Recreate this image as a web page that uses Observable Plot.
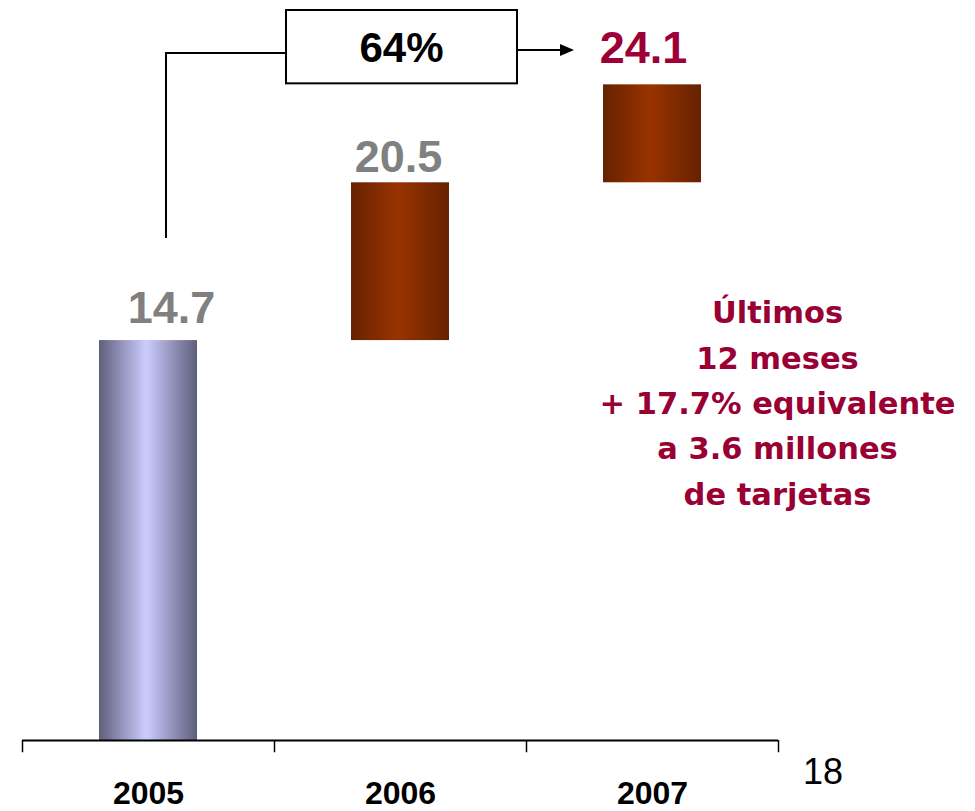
<!DOCTYPE html>
<html>
<head>
<meta charset="utf-8">
<script src="https://cdn.jsdelivr.net/npm/d3@7"></script>
<script src="https://cdn.jsdelivr.net/npm/@observablehq/plot@0.6"></script>
<style>
  html, body { margin: 0; padding: 0; background: #fff; }
  #chart svg { display: block; }
</style>
</head>
<body>
<div id="chart"></div>
<script>
// ---- data ----
const years = ["2005", "2006", "2007"];
const totals = [14.7, 20.5, 24.1];          // cumulative value at top of each bar
const starts = [0, 14.7, 20.5];             // bottom of each (waterfall) bar
const valueLabels = ["14.7", "20.5", "24.1"];
const growthLabel = "64%";
const noteLines = ["Últimos", "12 meses", "+ 17.7% equivalente", "a 3.6 millones", "de tarjetas"];
const pageNumber = "18";

const bars = years.map((y, i) => ({year: y, y1: starts[i], y2: totals[i], label: valueLabels[i]}));

const labelStyle = [
  {dx: 23, dy: -32, fill: "#808080"},
  {dx: -2, dy: -25, fill: "#808080"},
  {dx: -9, dy: -36, fill: "#9c0036"}
];

const plot = Plot.plot({
  width: 975,
  height: 811,
  marginLeft: 22,
  marginRight: 197,
  marginTop: 0,
  marginBottom: 71,
  style: {background: "#fff", overflow: "visible"},
  x: {domain: years, padding: 0, axis: null},
  y: {domain: [0, 27.2], axis: null},
  marks: [
    Plot.barY(bars.slice(0, 1), {x: "year", y1: "y1", y2: "y2", fill: "url(#gradLav)", insetLeft: 77, insetRight: 77}),
    Plot.barY(bars.slice(1), {x: "year", y1: "y1", y2: "y2", fill: "url(#gradBrown)", insetLeft: 77, insetRight: 77}),
    ...bars.map((b, i) => Plot.text([b], {
      x: "year", y: "y2", text: "label",
      dx: labelStyle[i].dx, dy: labelStyle[i].dy,
      fill: labelStyle[i].fill, fontSize: 45, fontWeight: "bold",
      fontFamily: "Liberation Sans, Arial, sans-serif", textAnchor: "middle", lineAnchor: "middle"
    })),
    Plot.ruleY([0], {stroke: "#000", strokeWidth: 2}),
    Plot.ruleX(years, {x: d => d, y1: 0, y2: -0.45, dx: -126, stroke: "#000", strokeWidth: 1.5}),
    Plot.ruleX(years.slice(-1), {x: d => d, y1: 0, y2: -0.45, dx: 126, stroke: "#000", strokeWidth: 1.5}),
    Plot.text(years, {x: d => d, y: 0, dy: 53, text: d => d, fontSize: 32, fontWeight: "bold",
      fontFamily: "Liberation Sans, Arial, sans-serif", fill: "#000", textAnchor: "middle", lineAnchor: "middle"}),
    Plot.text([noteLines.join("\n")], {frameAnchor: "right", dy: 29, dx: -1, text: d => d, textAnchor: "middle",
      fill: "#990033", fontSize: 30.5, fontWeight: "bold", lineHeight: 1.49,
      fontFamily: "DejaVu Sans, Verdana, sans-serif"})
  ]
});

const svg = d3.select(plot);
const defs = svg.insert("defs", ":first-child");
function grad(id, edge, center) {
  const g = defs.append("linearGradient").attr("id", id).attr("x1", "0").attr("x2", "1").attr("y1", "0").attr("y2", "0");
  g.append("stop").attr("offset", "0").attr("stop-color", edge);
  g.append("stop").attr("offset", "0.48").attr("stop-color", center);
  g.append("stop").attr("offset", "1").attr("stop-color", edge);
}
grad("gradLav", "#5e5e7c", "#ccccff");
grad("gradBrown", "#662200", "#993300");

// annotation derived from scales
const xs = plot.scale("x"), ys = plot.scale("y");
const bw = xs.bandwidth;
const c05 = xs.apply("2005") + bw / 2;
const c06 = xs.apply("2006") + bw / 2;
const c07 = xs.apply("2007") + bw / 2;
const xEnd = xs.apply("2007") + bw;
const yTop = ys.apply(totals[2]);
const ann = svg.append("g").attr("fill", "none").attr("stroke", "#000").attr("stroke-width", 2);
const boxL = c06 - 114, boxR = c06 + 117, boxT = 10, boxB = yTop - 1;
ann.append("path").attr("d", `M${c05 + 18},${ys.apply(18.45)}V53H${boxL}`);
ann.append("rect").attr("x", boxL).attr("y", boxT).attr("width", boxR - boxL).attr("height", boxB - boxT).attr("fill", "#fff");
ann.append("path").attr("d", `M${boxR},50H${c07 - 80}`);
svg.append("path").attr("d", `M${c07 - 92},44L${c07 - 78},50L${c07 - 92},56Z`).attr("fill", "#000");
svg.append("text").attr("x", (boxL + boxR) / 2).attr("y", (boxT + boxB) / 2).attr("dy", "0.36em")
  .attr("text-anchor", "middle").attr("font-family", "Liberation Sans, Arial, sans-serif")
  .attr("font-weight", "bold").attr("font-size", 42).attr("fill", "#000").text(growthLabel);
svg.append("text").attr("x", xEnd + 45).attr("y", ys.apply(0) + 31).attr("dy", "0.36em")
  .attr("text-anchor", "middle").attr("font-family", "Liberation Sans Narrow, Liberation Sans, Arial, sans-serif")
  .attr("font-size", 36).attr("fill", "#000").text(pageNumber);

document.getElementById("chart").appendChild(plot);
</script>
</body>
</html>
